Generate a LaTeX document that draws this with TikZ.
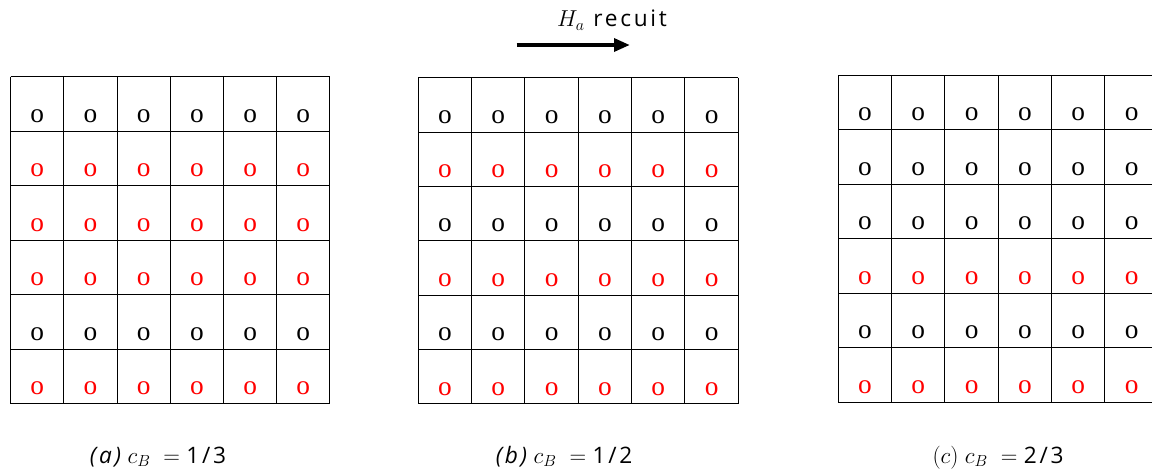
\documentclass[tikz,border=0pt]{standalone}
\usepackage{fontspec}
\setmainfont{Liberation Serif}
\setsansfont{Open Sans}
\newfontfamily\capfont[LetterSpace=12]{Open Sans}
\usetikzlibrary{arrows.meta}

\begin{document}
\begin{tikzpicture}[x=0.75pt,y=-0.75pt,
  site/.style={font=\fontsize{20.5}{24}\selectfont\rmfamily,inner sep=0pt,anchor=base},
  capt/.style={font=\fontsize{17}{20}\selectfont\capfont,inner sep=0pt,anchor=base},
  gline/.style={line width=0.75pt}]
  \clip (0,0) rectangle (1152,472);
  % grid (a)
  \begin{scope}[shift={(10.7,76.7)}]
    \foreach \c in {0,...,6} \draw[gline] (\c*53.2,0) -- (\c*53.2,327);
    \foreach \r in {0,...,6} \draw[gline] (0,\r*54.5) -- (319.2,\r*54.5);
    \foreach \r/\col in {0/black,1/red,2/red,3/red,4/black,5/red}
      \foreach \c in {0,...,5}
        \node[site,text=\col] (a-\r-\c) at (\c*53.2+26.6,\r*54.5+45.5) {o};
  \end{scope}
  \node[capt] (capa) at (158,463) {\textit{(a)}\,$c_B\;=\;$1/3};
  % grid (b)
  \begin{scope}[shift={(418.3,77.7)}]
    \foreach \c in {0,...,6} \draw[gline] (\c*53.33,0) -- (\c*53.33,326.3);
    \foreach \r in {0,...,6} \draw[gline] (0,\r*54.38) -- (320,\r*54.38);
    \foreach \r/\col in {0/black,1/red,2/black,3/red,4/black,5/red}
      \foreach \c in {0,...,5}
        \node[site,text=\col] (b-\r-\c) at (\c*53.33+26.67,\r*54.38+45.5) {o};
  \end{scope}
  \node[capt] (capb) at (564,463) {\textit{(b)}\,$c_B\;=\;$1/2};
  % grid (c), cut at the right edge
  \begin{scope}[shift={(838.3,75)}]
    \foreach \c in {0,...,6} \draw[gline] (\c*53.33,0) -- (\c*53.33,327.3);
    \foreach \r in {0,...,6} \draw[gline] (0,\r*54.55) -- (320,\r*54.55);
    \foreach \r/\col in {0/black,1/black,2/black,3/red,4/black,5/red}
      \foreach \c in {0,...,5}
        \node[site,text=\col] (c-\r-\c) at (\c*53.33+26.67,\r*54.55+45.5) {o};
  \end{scope}
  \node[capt] (capc) at (998,463) {$(c)\;c_B\;=\;$2/3};
  % annealing field
  \node[capt] (field) at (612,26.7) {$H_a$ recuit};
  \coordinate (arrS) at (516.7,45);
  \coordinate (arrE) at (630,45);
  \draw[line width=3pt,-{Triangle[length=12pt,width=9.5pt]}] (arrS) -- (arrE);
\end{tikzpicture}
\end{document}
